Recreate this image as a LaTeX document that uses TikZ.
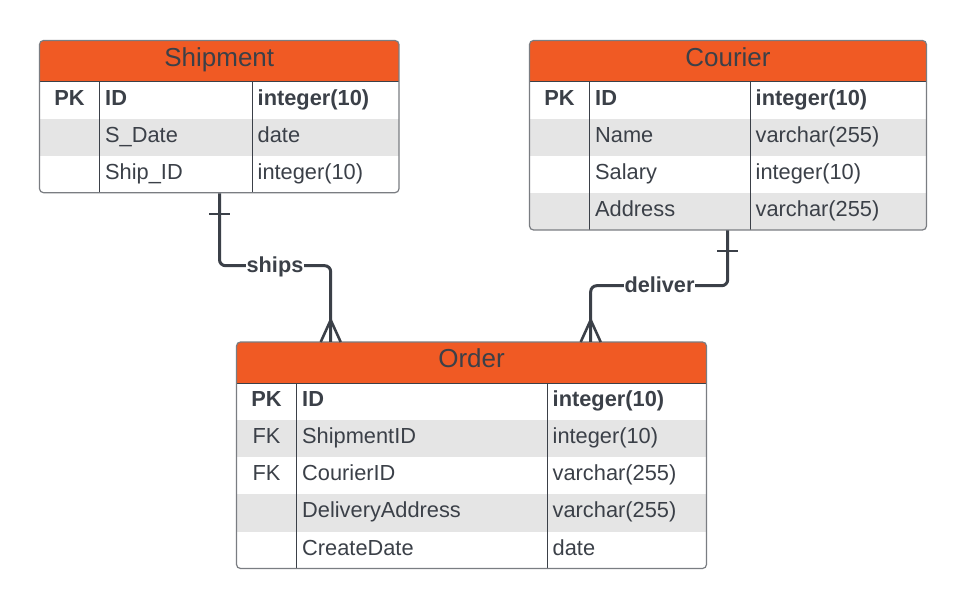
\documentclass[tikz,border=0pt]{standalone}
\usepackage{fontspec}
\setmainfont{Liberation Sans}
\usetikzlibrary{calc}
\definecolor{hdrc}{HTML}{F05A24}
\definecolor{rowg}{HTML}{E5E5E5}
\definecolor{ink}{HTML}{3B4048}
\definecolor{bord}{HTML}{7A7D82}
\tikzset{
  conn/.style={draw=ink, line width=3pt, rounded corners=6pt},
  foot/.style={draw=ink, line width=2.6pt},
  frame/.style={draw=bord, line width=1.2pt, rounded corners=4pt},
  divl/.style={draw=ink, line width=1pt},
  hdrtxt/.style={text=ink, font=\fontsize{26}{30}\selectfont, anchor=base, inner sep=0pt},
  fld/.style={text=ink, font=\fontsize{21.8}{25}\selectfont, anchor=base west, inner sep=0pt},
  keyt/.style={text=ink, font=\fontsize{21.8}{25}\selectfont, anchor=base, inner sep=0pt},
  lbl/.style={text=ink, font=\bfseries\fontsize{21.7}{25}\selectfont, fill=white, inner xsep=1pt, inner ysep=2pt, anchor=base},
}
\begin{document}
\begin{tikzpicture}[x=1pt,y=-1pt]
\useasboundingbox (0,0) rectangle (967,609);
\fill[white] (0,0) rectangle (967,609);

% ---------------- Shipment ----------------
\begin{scope}
\clip[rounded corners=4pt] (39.5,40.5) rectangle (399,192.7);
\fill[hdrc] (39.5,40.5) rectangle (399,82);
\fill[rowg] (39.5,119) rectangle (399,156);
\end{scope}
\draw[divl] (39.5,82) -- (399,82);
\draw[divl] (99.5,82) -- (99.5,192.7);
\draw[divl] (252.5,82) -- (252.5,192.7);
\draw[frame] (39.5,40.5) rectangle (399,192.7);
\node[hdrtxt] (shipT) at (219.25,66.5) {Shipment};
\node[keyt] (shipK1) at (69.5,105.5) {\bfseries PK};
\node[fld] (shipF1) at (105,105.5) {\bfseries ID};
\node[fld] (shipY1) at (257.5,105.5) {\bfseries integer(10)};
\node[fld] (shipF2) at (105,142.5) {S\_Date};
\node[fld] (shipY2) at (257.5,142.5) {date};
\node[fld] (shipF3) at (105,179.5) {Ship\_ID};
\node[fld] (shipY3) at (257.5,179.5) {integer(10)};

% ---------------- Courier ----------------
\begin{scope}
\clip[rounded corners=4pt] (529.5,40.5) rectangle (926.5,230);
\fill[hdrc] (529.5,40.5) rectangle (926.5,82);
\fill[rowg] (529.5,119) rectangle (926.5,156);
\fill[rowg] (529.5,193) rectangle (926.5,230);
\end{scope}
\draw[divl] (529.5,82) -- (926.5,82);
\draw[divl] (589.5,82) -- (589.5,230);
\draw[divl] (750.5,82) -- (750.5,230);
\draw[frame] (529.5,40.5) rectangle (926.5,230);
\node[hdrtxt] (courT) at (728,66.5) {Courier};
\node[keyt] (courK1) at (559.5,105.5) {\bfseries PK};
\node[fld] (courF1) at (595,105.5) {\bfseries ID};
\node[fld] (courY1) at (755.5,105.5) {\bfseries integer(10)};
\node[fld] (courF2) at (595,142.5) {Name};
\node[fld] (courY2) at (755.5,142.5) {varchar(255)};
\node[fld] (courF3) at (595,179.5) {Salary};
\node[fld] (courY3) at (755.5,179.5) {integer(10)};
\node[fld] (courF4) at (595,216.5) {Address};
\node[fld] (courY4) at (755.5,216.5) {varchar(255)};

% ---------------- Order ----------------
\begin{scope}
\clip[rounded corners=4pt] (236.5,342) rectangle (706.5,568.5);
\fill[hdrc] (236.5,342) rectangle (706.5,383.5);
\fill[rowg] (236.5,420.5) rectangle (706.5,457.5);
\fill[rowg] (236.5,494.5) rectangle (706.5,531.5);
\end{scope}
\draw[divl] (236.5,383.5) -- (706.5,383.5);
\draw[divl] (296.5,383.5) -- (296.5,568.5);
\draw[divl] (547.5,383.5) -- (547.5,568.5);
\draw[frame] (236.5,342) rectangle (706.5,568.5);
\node[hdrtxt] (ordT) at (471.5,368) {Order};
\node[keyt] (ordK1) at (266.5,407) {\bfseries PK};
\node[fld] (ordF1) at (302,407) {\bfseries ID};
\node[fld] (ordY1) at (552.5,407) {\bfseries integer(10)};
\node[keyt] (ordK2) at (266.5,444) {FK};
\node[fld] (ordF2) at (302,444) {ShipmentID};
\node[fld] (ordY2) at (552.5,444) {integer(10)};
\node[keyt] (ordK3) at (266.5,481) {FK};
\node[fld] (ordF3) at (302,481) {CourierID};
\node[fld] (ordY3) at (552.5,481) {varchar(255)};
\node[fld] (ordF4) at (302,518) {DeliveryAddress};
\node[fld] (ordY4) at (552.5,518) {varchar(255)};
\node[fld] (ordF5) at (302,555) {CreateDate};
\node[fld] (ordY5) at (552.5,555) {date};

% ---------------- connectors ----------------
\coordinate (shipB) at (219.5,193.5);
\coordinate (ordA1) at (330.7,342);
\coordinate (shipsC) at (275,265.7);
\coordinate (courB) at (727.7,230.5);
\coordinate (ordA2) at (590.7,342);
\coordinate (delivC) at (659.5,285.7);

\draw[conn] (shipB) |- (shipsC) -| (ordA1);
\draw[foot] ($(shipB)+(-10.5,20.5)$) -- ($(shipB)+(10.5,20.5)$);
\draw[foot] ($(ordA1)+(-10,0)$) -- ($(ordA1)+(0,-22)$) -- ($(ordA1)+(10,0)$);
\node[lbl] (ships) at ($(shipsC)+(0,6.8)$) {ships};

\draw[conn] (courB) |- (delivC) -| (ordA2);
\draw[foot] ($(courB)+(-10.5,20.5)$) -- ($(courB)+(10.5,20.5)$);
\draw[foot] ($(ordA2)+(-10,0)$) -- ($(ordA2)+(0,-22)$) -- ($(ordA2)+(10,0)$);
\node[lbl] (deliver) at ($(delivC)+(0,6.8)$) {deliver};
\end{tikzpicture}
\end{document}
